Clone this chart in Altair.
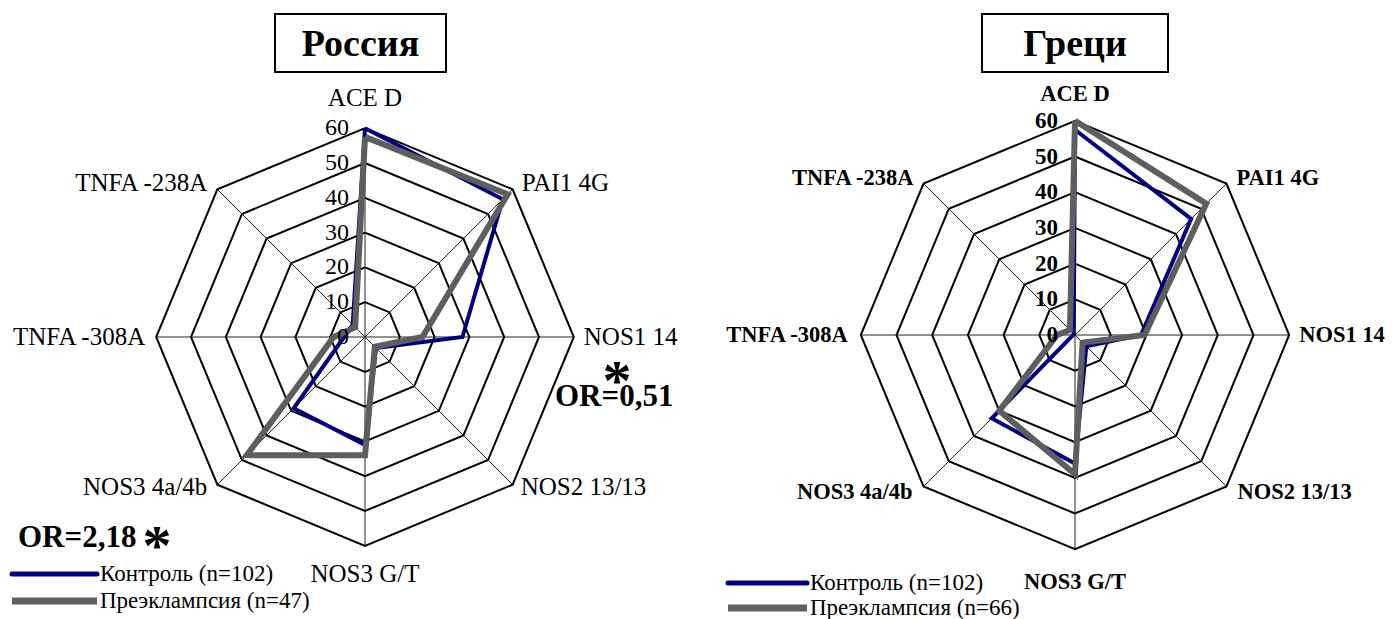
import altair as alt
import pandas as pd

# ---------------- data ----------------
axes_labels = ["ACE D", "PAI1 4G", "NOS1 14", "NOS2 13/13",
               "NOS3 G/T", "NOS3 4a/4b", "TNFA -308A", "TNFA -238A"]
ring_levels = [10, 20, 30, 40, 50, 60]
tick_values = [0, 10, 20, 30, 40, 50, 60]
tick_labels = ["0", "10", "20", "30", "40", "50", "60"]

russia_control = [60, 56, 28, 4.5, 31, 29, 6, 5]
russia_pe = [57.5, 58, 16.5, 4, 34, 48, 9, 4]
greece_control = [57.5, 46, 18.5, 4.5, 36, 33, 0.5, 0.5]
greece_pe = [60, 52, 19.5, 3, 39, 30, 5, 2]

russia_legend = ["Контроль (n=102)", "Преэклампсия (n=47)"]
greece_legend = ["Контроль (n=102)", "Преэклампсия (n=66)"]
titles = ["Россия", "Греци"]
or_texts = ["OR=0,51", "OR=2,18"]
star = "*"

N = len(axes_labels)
W, H = 690, 603
SERIF = "Liberation Serif, Times New Roman, serif"
BLUE = "#000080"
GRAY = "#5e5e5e"


def polygon_df(values, name):
    rows = []
    for i in range(N + 1):
        rows.append({"series": name, "idx": i, "value": values[i % N]})
    return pd.DataFrame(rows)


rings_df = pd.DataFrame([{"ring": r, "idx": i, "value": r}
                         for r in ring_levels for i in range(N + 1)])
spokes_df = pd.DataFrame({"idx": list(range(N)), "value": [60] * N})
ticks_df = pd.DataFrame({"value": tick_values, "label": tick_labels})
labels_df = pd.DataFrame({"idx": list(range(N)), "label": axes_labels, "value": [60] * N})

XY = dict(x="datum.value*sin(datum.idx*PI/4)", y="datum.value*cos(datum.idx*PI/4)")


def panel(control, pe, legend, title, k, cx, cy, bold, label_off, tick_dx,
          label_size, tick_size, title_box, legend_pos, extras):
    xs = alt.Scale(domain=[-cx / k, (W - cx) / k], nice=False, zero=False)
    ys = alt.Scale(domain=[-(H - cy) / k, cy / k], nice=False, zero=False)
    X = alt.X("x:Q", scale=xs, axis=None)
    Y = alt.Y("y:Q", scale=ys, axis=None)
    weight = "bold" if bold else "normal"

    rings = alt.Chart(rings_df).transform_calculate(**XY).mark_line(
        color="black", strokeWidth=2).encode(x=X, y=Y, detail="ring:N", order="idx:Q")
    spokes = alt.Chart(spokes_df).transform_calculate(
        x0="0", y0="0", **XY).mark_rule(color="#222222", strokeWidth=1).encode(
        x=alt.X("x0:Q", scale=xs, axis=None), y=alt.Y("y0:Q", scale=ys, axis=None),
        x2="x:Q", y2="y:Q")
    blue = alt.Chart(polygon_df(control, "c")).transform_calculate(**XY).mark_line(
        color=BLUE, strokeWidth=4, strokeJoin="miter").encode(x=X, y=Y, order="idx:Q")
    gray = alt.Chart(polygon_df(pe, "p")).transform_calculate(**XY).mark_line(
        color=GRAY, strokeWidth=6, strokeJoin="miter").encode(x=X, y=Y, order="idx:Q")
    ticks = alt.Chart(ticks_df).transform_calculate(x0="0").mark_text(
        align="right", baseline="middle", dx=tick_dx, font=SERIF, fontSize=tick_size,
        fontWeight=weight, color="black").encode(
        x=alt.X("x0:Q", scale=xs, axis=None), y=alt.Y("value:Q", scale=ys, axis=None),
        text="label:N")
    layers = [rings, spokes, blue, gray, ticks]

    for i, (align, dx, dy) in enumerate(label_off):
        layers.append(
            alt.Chart(labels_df).transform_filter(f"datum.idx == {i}")
            .transform_calculate(**XY)
            .mark_text(align=align, baseline="middle", dx=dx, dy=dy, font=SERIF,
                       fontSize=label_size, fontWeight=weight, color="black")
            .encode(x=X, y=Y, text="label:N"))

    bx1, bx2, by1, by2 = title_box
    tdf = pd.DataFrame({"t": [title]})
    layers.append(alt.Chart(tdf).mark_rect(fill="white", stroke="black", strokeWidth=2)
                  .encode(x=alt.value(bx1), x2=alt.value(bx2), y=alt.value(by1), y2=alt.value(by2)))
    layers.append(alt.Chart(tdf).mark_text(font=SERIF, fontSize=38, fontWeight="bold",
                                           align="center", baseline="middle", color="black")
                  .encode(x=alt.value((bx1 + bx2) / 2), y=alt.value((by1 + by2) / 2 + 2), text="t:N"))

    lx1, lx2, ly1, ly2 = legend_pos
    ldf = pd.DataFrame({"label": legend, "i": [0, 1]})
    layers.append(alt.Chart(ldf).transform_filter("datum.i == 0")
                  .mark_rule(color=BLUE, strokeWidth=5, strokeCap="round")
                  .encode(x=alt.value(lx1), x2=alt.value(lx2), y=alt.value(ly1)))
    layers.append(alt.Chart(ldf).transform_filter("datum.i == 1")
                  .mark_rule(color=GRAY, strokeWidth=7, strokeCap="butt")
                  .encode(x=alt.value(lx1), x2=alt.value(lx2), y=alt.value(ly2)))
    for i, yy in enumerate([ly1, ly2]):
        layers.append(alt.Chart(ldf).transform_filter(f"datum.i == {i}")
                      .mark_text(align="left", baseline="middle", font=SERIF, fontSize=23,
                                 color="black")
                      .encode(x=alt.value(lx2 + 3), y=alt.value(yy), text="label:N"))
    layers.extend(extras)
    return alt.layer(*layers).properties(width=W, height=H)


def annot(text, x, y, size, align="left", baseline="middle", weight="bold"):
    return alt.Chart(pd.DataFrame({"t": [text]})).mark_text(
        font=SERIF, fontSize=size, fontWeight=weight, align=align, baseline=baseline,
        color="black").encode(x=alt.value(x), y=alt.value(y), text="t:N")


ru_off = [("center", 0, -30), ("left", 9, -6), ("left", 10, 0), ("left", 8, 2),
          ("center", 0, 28), ("right", -10, 2), ("right", -11, 0), ("right", -10, -6)]
gr_off = [("center", 0, -27), ("left", 10, -6), ("left", 10, 0), ("left", 11, 6),
          ("center", 0, 33), ("right", -11, 6), ("right", -13, 0), ("right", -10, -6)]

ru_extras = [
    annot(or_texts[0], 547, 389, 31),
    annot(star, 609, 392, 58, align="center", baseline="alphabetic"),
    annot(or_texts[1], 10, 530, 31),
    annot(star, 149, 557, 58, align="center", baseline="alphabetic"),
]

p1 = panel(russia_control, russia_pe, russia_legend, titles[0], 3.48, 357, 329, False,
           ru_off, -16, 25, 24, (267, 438, 6, 64), (4, 89, 566, 593), ru_extras)
p2 = panel(greece_control, greece_pe, greece_legend, titles[1], 3.57, 377, 327, True,
           gr_off, -17, 22.5, 23, (284, 470, 6, 64), (30, 109, 575, 600), [])

chart = alt.hconcat(p1, p2, spacing=0, bounds="flush").properties(padding=0).configure_view(stroke=None)
chart.save("out.html", embed_options={"renderer": "svg", "actions": False})
